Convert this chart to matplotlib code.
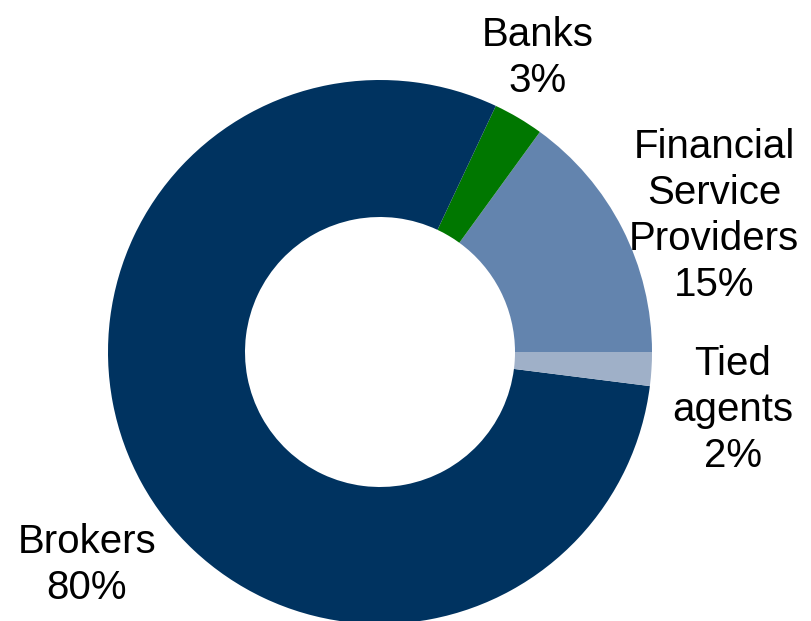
import matplotlib.pyplot as plt

plt.rcParams['font.family'] = ['Liberation Sans', 'DejaVu Sans']

# channel shares (%), counter-clockwise from 3 o'clock
channels = ['Financial\nService\nProviders', 'Banks', 'Brokers', 'Tied\nagents']
shares = [15, 3, 80, 2]
colors = ['#6384AE', '#007700', '#003360', '#9FB0C8']

# label anchor points (pixel coords, y from bottom)
label_xy = [(714, 405), (538, 563), (87, 56), (733, 211)]

fig = plt.figure(figsize=(8.11, 6.21), dpi=100)
ax = fig.add_axes([0, 0, 1, 1])

ax.pie(
    shares,
    colors=colors,
    startangle=0,
    counterclock=True,
    center=(380, 269),
    radius=272,
    wedgeprops=dict(width=137, linewidth=0),
)

for name, val, (x, y) in zip(channels, shares, label_xy):
    ax.text(x, y, f"{name}\n{val}%", ha='center', va='center',
            multialignment='center', fontsize=29, linespacing=1.27,
            color='black')

ax.set_xlim(0, 811)
ax.set_ylim(0, 621)
ax.set_aspect('auto')
ax.axis('off')

fig.savefig('out.png', dpi=100)
